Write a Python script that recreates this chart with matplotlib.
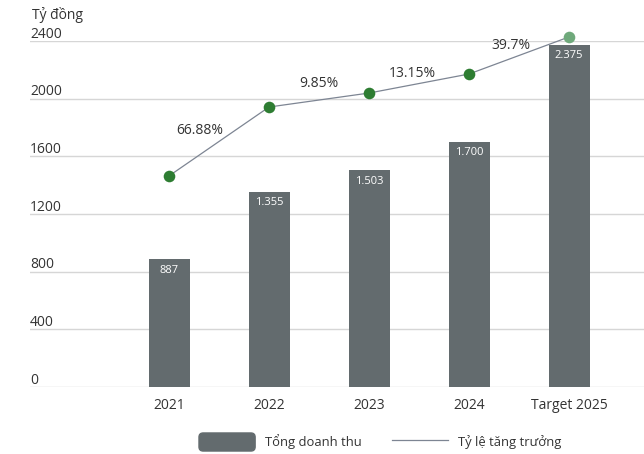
import matplotlib
matplotlib.use("Agg")
import matplotlib.pyplot as plt
import matplotlib.transforms as mtransforms
from matplotlib.patches import FancyBboxPatch
from matplotlib.lines import Line2D
from matplotlib.legend_handler import HandlerPatch

plt.rcParams['font.family'] = ['Open Sans', 'DejaVu Sans']

# revenue, billion VND
years = ["2021", "2022", "2023", "2024", "Target 2025"]
revenue = [887, 1355, 1503, 1700, 2375]
revenue_labels = ["887", "1.355", "1.503", "1.700", "2.375"]

# growth line, drawn as a trend above the bars
growth_level = [1464, 1942, 2039, 2171, 2428]
growth_labels = ["66.88%", "9.85%", "13.15%", "39.7%"]

yticks = [0, 400, 800, 1200, 1600, 2000, 2400]

BAR = "#636b6e"
GREEN = "#2e7d32"
GREEN_LIGHT = "#6fa97b"
LINE = "#7d8593"
GRID = "#d6d6d6"
TEXT = "#333333"

fig = plt.figure(figsize=(6.44, 4.54), dpi=100)
ax = fig.add_axes([30 / 644, 67 / 454, 614 / 644, 346 / 454])
ax.set_xlim(-1.39, 4.75)
ax.set_ylim(0, 2400)

for s in ax.spines.values():
    s.set_visible(False)
ax.set_yticks(yticks)
ax.yaxis.grid(True, color=GRID, linewidth=1)
ax.set_axisbelow(True)
ax.tick_params(axis="y", length=0, labelleft=False)

# y labels sit above their gridline, flush with its left end
trans = mtransforms.blended_transform_factory(ax.transAxes, ax.transData)
for v in yticks:
    ax.annotate(str(v), (0, v), xycoords=trans, xytext=(0, 2.5),
                textcoords="offset points", ha="left", va="baseline",
                fontsize=10, color=TEXT)
fig.text(32 / 644, 1 - 15 / 454, "Tỷ đồng", ha="left", va="center",
         fontsize=10, color=TEXT)

x = list(range(len(years)))
ax.set_xticks(x)
ax.set_xticklabels(years, fontsize=10, color=TEXT)
ax.tick_params(axis="x", length=0, pad=8)

bars = ax.bar(x, revenue, width=0.41, color=BAR, zorder=2)
for b, lab in zip(bars, revenue_labels):
    ax.annotate(lab, (b.get_x() + b.get_width() / 2, b.get_height()),
                xytext=(0, -4), textcoords="offset points",
                ha="center", va="top", fontsize=8, color="white", zorder=3)

ax.plot(x, growth_level, color=LINE, linewidth=0.9, zorder=3, clip_on=False)
ax.scatter(x[:-1], growth_level[:-1], s=70, color=GREEN, zorder=4,
           clip_on=False, linewidths=0)
ax.scatter(x[-1:], growth_level[-1:], s=70, color=GREEN_LIGHT, zorder=4,
           clip_on=False, linewidths=0)

label_offsets = [(-14, 8), (0, 12), (-5, 7), (-6, 7)]
for i, (lab, off) in enumerate(zip(growth_labels, label_offsets)):
    mx = (x[i] + x[i + 1]) / 2
    my = (growth_level[i] + growth_level[i + 1]) / 2
    ax.annotate(lab, (mx, my), xytext=off, textcoords="offset points",
                ha="center", va="center", fontsize=10, color=TEXT)


def rounded_patch(legend, orig_handle, xdescent, ydescent, width, height, fontsize):
    return FancyBboxPatch((-xdescent, -ydescent), width, height,
                          boxstyle="round,pad=0,rounding_size=3")


handles = [
    FancyBboxPatch((0, 0), 1, 1, color=BAR),
    Line2D([], [], color=LINE, linewidth=0.9),
]
fig.legend(handles, ["Tổng doanh thu", "Tỷ lệ tăng trưởng"],
           loc="center", bbox_to_anchor=(380 / 644, 1 - 442 / 454),
           ncol=2, frameon=False, fontsize=9.4, handlelength=4.3,
           handleheight=1.75, columnspacing=2.3, handletextpad=0.75,
           labelcolor=TEXT,
           handler_map={FancyBboxPatch: HandlerPatch(patch_func=rounded_patch)})

fig.savefig("out.png", dpi=100)
